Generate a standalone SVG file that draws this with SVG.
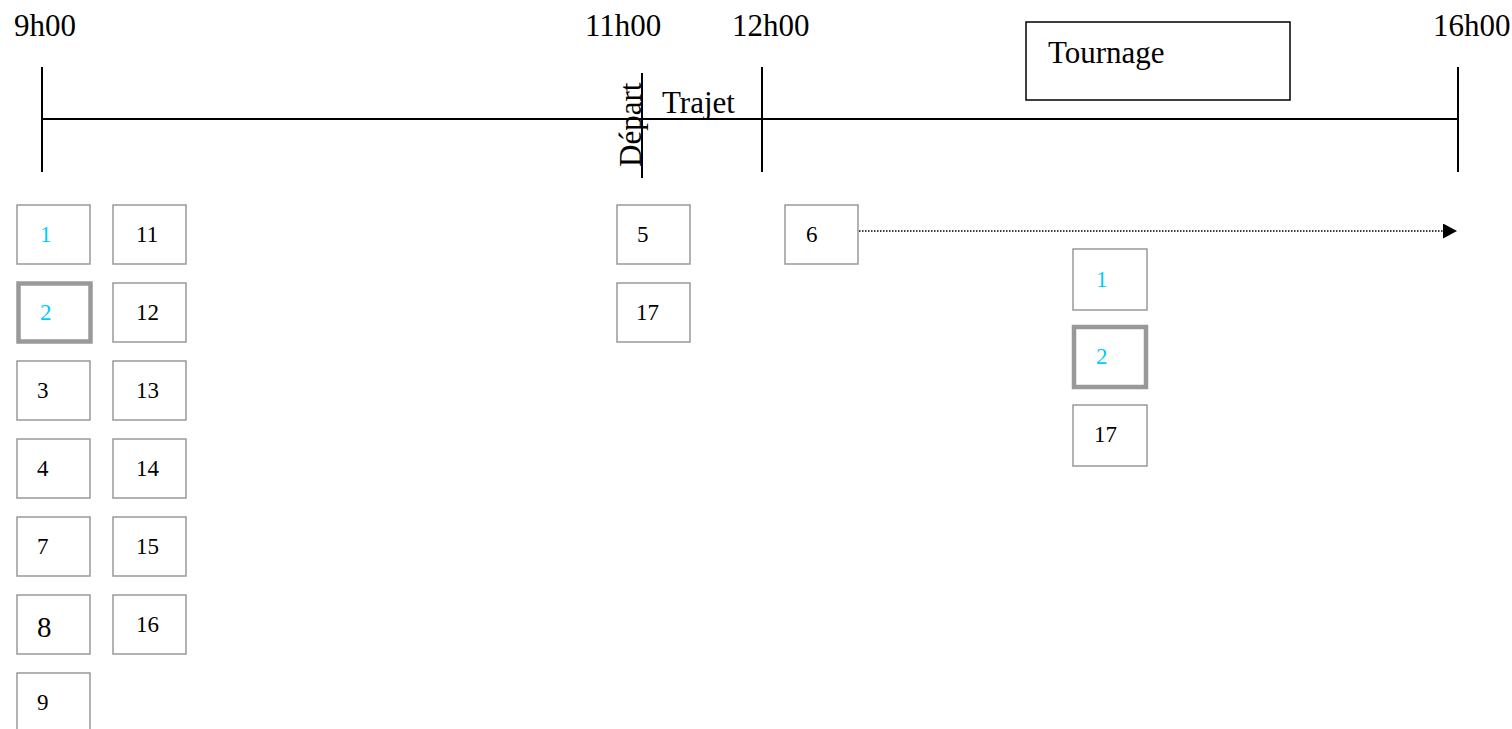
<svg xmlns="http://www.w3.org/2000/svg" width="1512" height="729" viewBox="0 0 1512 729">
<style>
text{font-family:"Liberation Serif","Times New Roman",serif;fill:#000}
.t{font-size:31px}
.n{font-size:23px}
.c{fill:#00ccff}
.b{fill:#fff;stroke:#999;stroke-width:1.5}
.bb{fill:#fff;stroke:#999;stroke-width:4.5}
.ax{stroke:#000;stroke-width:2;fill:none}
</style>
<defs>
<marker id="ah" markerWidth="14" markerHeight="15" refX="0" refY="7.5" orient="auto" markerUnits="userSpaceOnUse">
<path d="M0,0 L14,7.5 L0,15 Z" fill="#000"/>
</marker>
</defs>
<g id="timeline">
<line class="ax" x1="42" y1="119" x2="1458" y2="119"/>
<line class="ax" x1="42" y1="67" x2="42" y2="172"/>
<line class="ax" x1="642" y1="73" x2="642" y2="178"/>
<line class="ax" x1="762" y1="67" x2="762" y2="172"/>
<line class="ax" x1="1458" y1="67" x2="1458" y2="172"/>
<text class="t" x="14" y="36">9h00</text>
<text class="t" x="585" y="36">11h00</text>
<text class="t" x="732" y="36">12h00</text>
<text class="t" x="1433" y="36">16h00</text>
<text class="t" transform="translate(641,167) rotate(-90)">Départ</text>
<text class="t" x="662" y="113">Trajet</text>
</g>
<g id="tournage">
<rect x="1026" y="22" width="264" height="78" fill="#fff" stroke="#000" stroke-width="1.5"/>
<text class="t" x="1048" y="63">Tournage</text>
</g>
<g id="connectors">
<line x1="859" y1="231" x2="1443" y2="231" stroke="#000" stroke-width="1.3" stroke-dasharray="1.5 1.5" marker-end="url(#ah)"/>
</g>
<g id="n1"><rect class="b" x="17" y="205" width="73" height="59"/><text class="n c" x="40" y="242">1</text></g>
<g id="n2"><rect class="bb" x="18.5" y="283.5" width="72" height="58"/><text class="n c" x="40" y="320">2</text></g>
<g id="n3"><rect class="b" x="17" y="361" width="73" height="59"/><text class="n" x="37" y="398">3</text></g>
<g id="n4"><rect class="b" x="17" y="439" width="73" height="59"/><text class="n" x="37" y="476">4</text></g>
<g id="n7"><rect class="b" x="17" y="517" width="73" height="59"/><text class="n" x="37" y="554">7</text></g>
<g id="n8"><rect class="b" x="17" y="595" width="73" height="59"/><text x="37" y="637" style="font-size:29px">8</text></g>
<g id="n9"><rect class="b" x="17" y="673" width="73" height="59"/><text class="n" x="37" y="710">9</text></g>
<g id="n11"><rect class="b" x="113" y="205" width="73" height="59"/><text class="n" x="136" y="242">11</text></g>
<g id="n12"><rect class="b" x="113" y="283" width="73" height="59"/><text class="n" x="136" y="320">12</text></g>
<g id="n13"><rect class="b" x="113" y="361" width="73" height="59"/><text class="n" x="136" y="398">13</text></g>
<g id="n14"><rect class="b" x="113" y="439" width="73" height="59"/><text class="n" x="136" y="476">14</text></g>
<g id="n15"><rect class="b" x="113" y="517" width="73" height="59"/><text class="n" x="136" y="554">15</text></g>
<g id="n16"><rect class="b" x="113" y="595" width="73" height="59"/><text class="n" x="136" y="632">16</text></g>
<g id="n5"><rect class="b" x="617" y="205" width="73" height="59"/><text class="n" x="637" y="242">5</text></g>
<g id="n17a"><rect class="b" x="617" y="283" width="73" height="59"/><text class="n" x="636" y="320">17</text></g>
<g id="n6"><rect class="b" x="785" y="205" width="73" height="59"/><text class="n" x="806" y="242">6</text></g>
<g id="n1b"><rect class="b" x="1073" y="249" width="74" height="61"/><text class="n c" x="1096" y="287">1</text></g>
<g id="n2b"><rect class="bb" x="1074" y="327" width="72" height="60"/><text class="n c" x="1096" y="364">2</text></g>
<g id="n17b"><rect class="b" x="1073" y="405" width="74" height="61"/><text class="n" x="1094" y="442">17</text></g>
</svg>
